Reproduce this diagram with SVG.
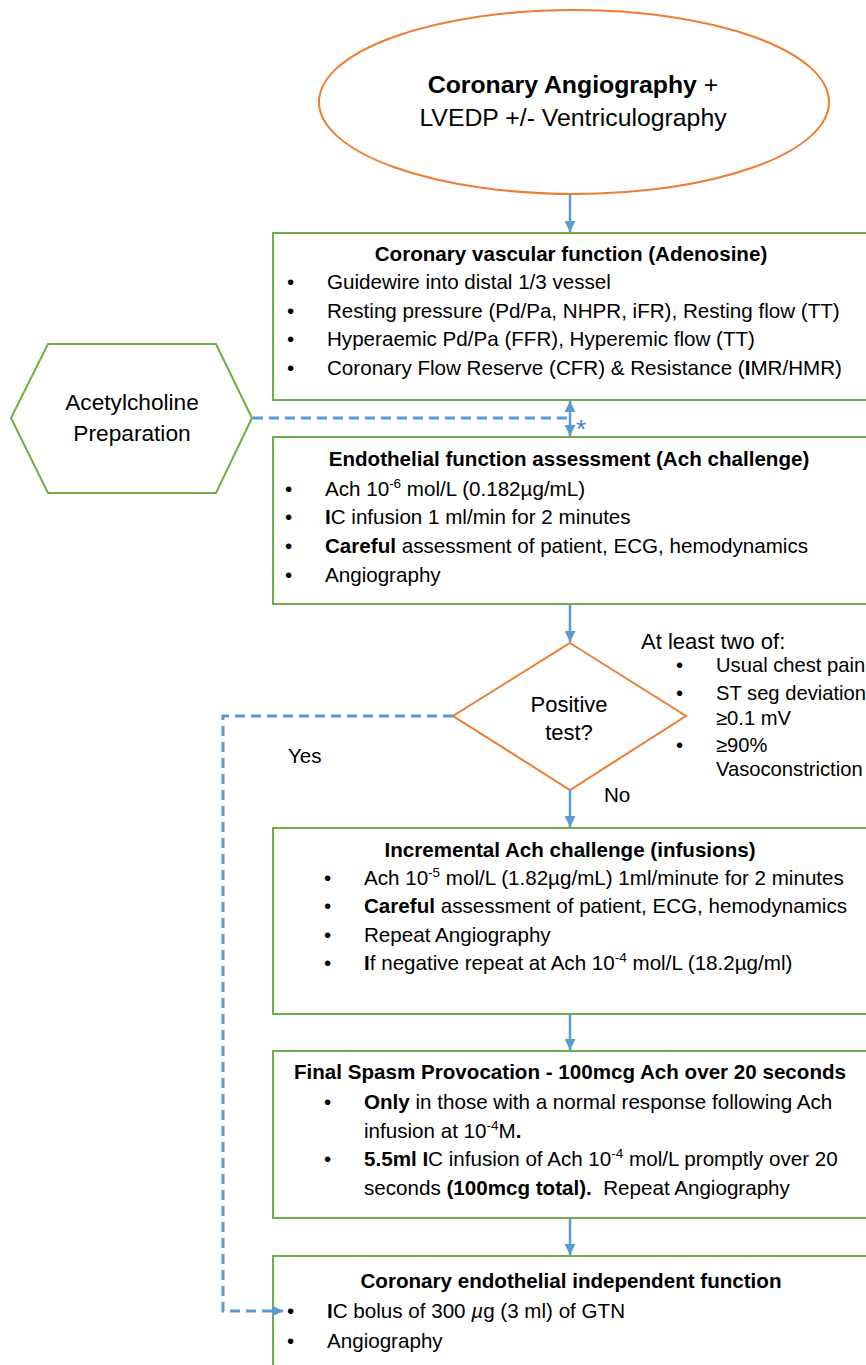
<svg xmlns="http://www.w3.org/2000/svg" width="866" height="1365" viewBox="0 0 866 1365">
<defs>
<marker id="ah" viewBox="0 0 10 10" refX="10" refY="5" markerWidth="11" markerHeight="11" markerUnits="userSpaceOnUse" orient="auto-start-reverse">
<path d="M0,0 L10,5 L0,10 Z" fill="#5B9BD5"/>
</marker>
</defs>
<style>
text{font-family:"Liberation Sans",Arial,Helvetica,sans-serif;fill:#000;font-size:20.6px}
.t{font-weight:bold;text-anchor:middle}
.c{text-anchor:middle}
.b{font-weight:bold}
.box{fill:#fff;stroke:#70AD47;stroke-width:2}
.or{fill:#fff;stroke:#ED7D31;stroke-width:2}
.con{fill:none;stroke:#5B9BD5;stroke-width:2.5}
.dash{stroke-width:3;stroke-dasharray:10 6}
.sup{font-size:13.5px}
.big{font-size:22px}
.cr{font-size:20.2px}
</style>

<g id="start">
<ellipse class="or" cx="574" cy="102" rx="255" ry="92"/>
<text class="c" x="573" y="93" style="font-size:24.8px"><tspan class="b">Coronary Angiography</tspan> +</text>
<text class="c" x="573" y="126" style="font-size:24.8px">LVEDP +/- Ventriculography</text>
</g>

<g id="vascular">
<rect class="box" x="273" y="233" width="600" height="167"/>
<text class="t" x="571" y="261">Coronary vascular function (Adenosine)</text>
<text x="287" y="289">•</text><text x="327" y="289">Guidewire into distal 1/3 vessel</text>
<text x="287" y="318">•</text><text x="327" y="318">Resting pressure (Pd/Pa, NHPR, iFR), Resting flow (TT)</text>
<text x="287" y="346">•</text><text x="327" y="346">Hyperaemic Pd/Pa (FFR), Hyperemic flow (TT)</text>
<text x="287" y="375">•</text><text x="327" y="375">Coronary Flow Reserve (CFR) &amp; Resistance (<tspan class="b">I</tspan>MR/HMR)</text>
</g>

<g id="ach-prep">
<polygon class="box" points="48,344 216,344 252,418 216,493 48,493 11,418"/>
<text class="c" x="132" y="410" style="font-size:22.7px">Acetylcholine</text>
<text class="c" x="132" y="441" style="font-size:22.7px">Preparation</text>
</g>

<g id="endothelial">
<rect class="box" x="273" y="437" width="600" height="167"/>
<text class="t" x="569" y="466">Endothelial function assessment (Ach challenge)</text>
<text x="285" y="496">•</text><text x="325" y="496">Ach 10<tspan class="sup" dy="-8">-6</tspan><tspan dy="8"> mol/L (0.182µg/mL)</tspan></text>
<text x="285" y="524">•</text><text x="325" y="524"><tspan class="b">I</tspan>C infusion 1 ml/min for 2 minutes</text>
<text x="285" y="553">•</text><text x="325" y="553"><tspan class="b">Careful</tspan> assessment of patient, ECG, hemodynamics</text>
<text x="285" y="582">•</text><text x="325" y="582">Angiography</text>
</g>

<g id="decision">
<polygon class="or" points="570,643 686,716 570,790 453,716"/>
<text class="c big" x="569" y="712">Positive</text>
<text class="c big" x="569" y="740">test?</text>
</g>

<g id="criteria">
<text class="big" x="641" y="649">At least two of:</text>
<text class="cr" x="676" y="672">•</text><text class="cr" x="716" y="672">Usual chest pain</text>
<text class="cr" x="676" y="700">•</text><text class="cr" x="716" y="700">ST seg deviation</text>
<text class="cr" x="716" y="725">≥0.1 mV</text>
<text class="cr" x="676" y="752">•</text><text class="cr" x="716" y="752">≥90%</text>
<text class="cr" x="716" y="776">Vasoconstriction</text>
</g>

<g id="incremental">
<rect class="box" x="273" y="828" width="600" height="186"/>
<text class="t" x="570" y="857">Incremental Ach challenge (infusions)</text>
<text x="324" y="885">•</text><text x="364" y="885">Ach 10<tspan class="sup" dy="-8">-5</tspan><tspan dy="8"> mol/L (1.82µg/mL) 1ml/minute for 2 minutes</tspan></text>
<text x="324" y="913">•</text><text x="364" y="913"><tspan class="b">Careful</tspan> assessment of patient, ECG, hemodynamics</text>
<text x="324" y="942">•</text><text x="364" y="942">Repeat Angiography</text>
<text x="324" y="970">•</text><text x="364" y="970"><tspan class="b">I</tspan>f negative repeat at Ach 10<tspan class="sup" dy="-8">-4</tspan><tspan dy="8"> mol/L (18.2µg/ml)</tspan></text>
</g>

<g id="final-spasm">
<rect class="box" x="273" y="1051" width="600" height="167"/>
<text class="t" x="570" y="1079">Final Spasm Provocation - 100mcg Ach over 20 seconds</text>
<text x="324" y="1109">•</text><text x="364" y="1109"><tspan class="b">Only</tspan> in those with a normal response following Ach</text>
<text x="364" y="1138">infusion at 10<tspan class="sup" dy="-8">-4</tspan><tspan dy="8">M</tspan><tspan class="b">.</tspan></text>
<text x="324" y="1166">•</text><text x="364" y="1166"><tspan class="b">5.5ml I</tspan>C infusion of Ach 10<tspan class="sup" dy="-8">-4</tspan><tspan dy="8"> mol/L promptly over 20</tspan></text>
<text x="364" y="1195" xml:space="preserve">seconds <tspan class="b">(100mcg total).</tspan>  Repeat Angiography</text>
</g>

<g id="independent">
<rect class="box" x="273" y="1256" width="600" height="130"/>
<text class="t" x="571" y="1288">Coronary endothelial independent function</text>
<text x="287" y="1318">•</text><text x="327" y="1318"><tspan class="b">I</tspan>C bolus of 300 <tspan font-style="italic">µ</tspan>g (3 ml) of GTN</text>
<text x="287" y="1348">•</text><text x="327" y="1348">Angiography</text>
</g>

<g id="connectors">
<line class="con" x1="570" y1="195" x2="570" y2="232" marker-end="url(#ah)"/>
<line class="con" x1="570" y1="401" x2="570" y2="436" marker-start="url(#ah)" marker-end="url(#ah)"/>
<line class="con dash" x1="253" y1="418" x2="568" y2="418"/>
<text x="576" y="438" style="fill:#4A7EC4;font-size:26px">*</text>
<line class="con" x1="570" y1="605" x2="570" y2="642" marker-end="url(#ah)"/>
<polyline class="con dash" points="453,716 223,716 223,1311 283,1311" marker-end="url(#ah)"/>
<line class="con" x1="570" y1="790" x2="570" y2="827" marker-end="url(#ah)"/>
<line class="con" x1="570" y1="1015" x2="570" y2="1050" marker-end="url(#ah)"/>
<line class="con" x1="570" y1="1219" x2="570" y2="1255" marker-end="url(#ah)"/>
<text x="288" y="763">Yes</text>
<text x="604" y="802">No</text>
</g>
</svg>
